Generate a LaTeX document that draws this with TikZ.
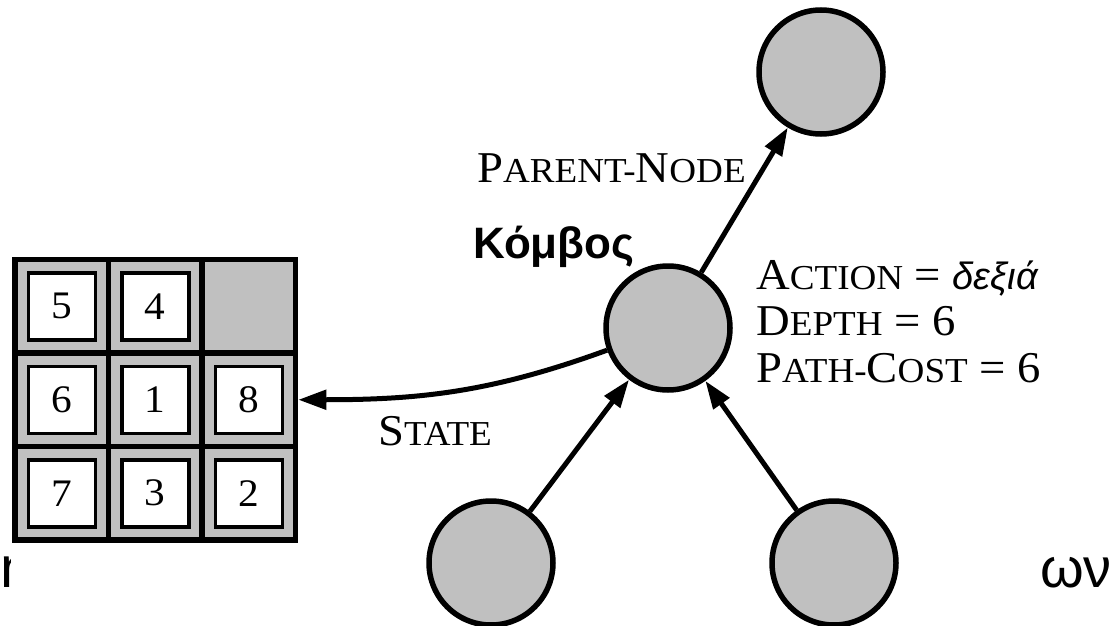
\documentclass[tikz,border=0pt]{standalone}
\usepackage{fontspec}
\setmainfont{Liberation Serif}[FakeStretch=1.06]
\newfontfamily\grfont{Liberation Sans}
\usetikzlibrary{positioning}
\usetikzlibrary{arrows.meta}

\definecolor{cellgray}{RGB}{192,192,192}
\newcommand{\capsz}{\fontsize{44}{44}\selectfont}
\newcommand{\smcsz}{\fontsize{35}{35}\selectfont}
\newcommand{\fsc}[2]{{\capsz #1}{\smcsz #2}}

\tikzset{
  snode/.style={circle, draw, fill=cellgray, line width=5.5pt, minimum size=124pt, inner sep=0pt},
  tile/.style={rectangle, draw, fill=white, line width=3.5pt, minimum size=67pt, inner sep=0pt, font=\fontsize{39}{39}\selectfont},
  lbl/.style={inner sep=0pt, font=\capsz},
}

\begin{document}
\begin{tikzpicture}[x=1pt, y=1pt, >={Triangle[length=28pt,width=19pt]}]
      \useasboundingbox (0,0) rectangle (1112,-626);

      % the 8-puzzle state
      \node[draw, fill=cellgray, line width=5.5pt, minimum size=280.5pt, inner sep=0pt] (board) at (155.25,-399.75) {};
      \draw[line width=5.5pt] (108.5,-259.5) -- (108.5,-540);
      \draw[line width=5.5pt] (202,-259.5) -- (202,-540);
      \draw[line width=5.5pt] (15,-353) -- (295.5,-353);
      \draw[line width=5.5pt] (15,-446.5) -- (295.5,-446.5);

      \node[tile] (t5) at (61.75,-306.25) {5};
      \node[tile] (t4) at (155.25,-306.25) {4};
      \node[tile] (t6) at (61.75,-399.75) {6};
      \node[tile] (t1) at (155.25,-399.75) {1};
      \node[tile] (t8) at (248.75,-399.75) {8};
      \node[tile] (t7) at (61.75,-493.25) {7};
      \node[tile] (t3) at (155.25,-493.25) {3};
      \node[tile] (t2) at (248.75,-493.25) {2};

      % search tree nodes
      \node[snode] (kombos) at (668,-328) {};
      \node[snode] (parent) at (821,-72) {};
      \node[snode] (childl) at (491,-563) {};
      \node[snode] (childr) at (834,-563) {};

      \draw[->, line width=5pt] (kombos) -- (parent);
      \draw[->, line width=5pt] (childl) -- (kombos);
      \draw[->, line width=5pt] (childr) -- (kombos);
      \draw[->, line width=5pt] (kombos) to[out=200, in=0] (board.east);

      % labels
      \node[lbl, anchor=base west] (parentlbl) at (477,-182) {\fsc{P}{ARENT-}\fsc{N}{ODE}};
      \node[lbl, anchor=base west] (kombostxt) at (473,-258) {\grfont\bfseries\fontsize{44}{44}\selectfont Κόμβος};
      \node[lbl, anchor=base west] (statelbl) at (378,-445) {\fsc{S}{TATE}};
      \node[lbl, anchor=base west] (action) at (756,-289) {\fsc{A}{CTION} = {\grfont\itshape\fontsize{38}{38}\selectfont δεξιά}};
      \node[lbl, anchor=base west] (depth) at (756,-335) {\fsc{D}{EPTH} = 6};
      \node[lbl, anchor=base west] (pathcost) at (756,-382) {\fsc{P}{ATH-}\fsc{C}{OST} = 6};

      % caption fragments
      \begin{scope}
        \clip (0,-540) rectangle (10,-600);
        \node[lbl, anchor=base west] (capleft) at (0,-587) {\grfont\fontsize{58}{58}\selectfont n};
      \end{scope}
      \node[lbl, anchor=base west] (capright) at (1040,-587) {\grfont\fontsize{56}{56}\selectfont ων};
    \end{tikzpicture}
\end{document}
